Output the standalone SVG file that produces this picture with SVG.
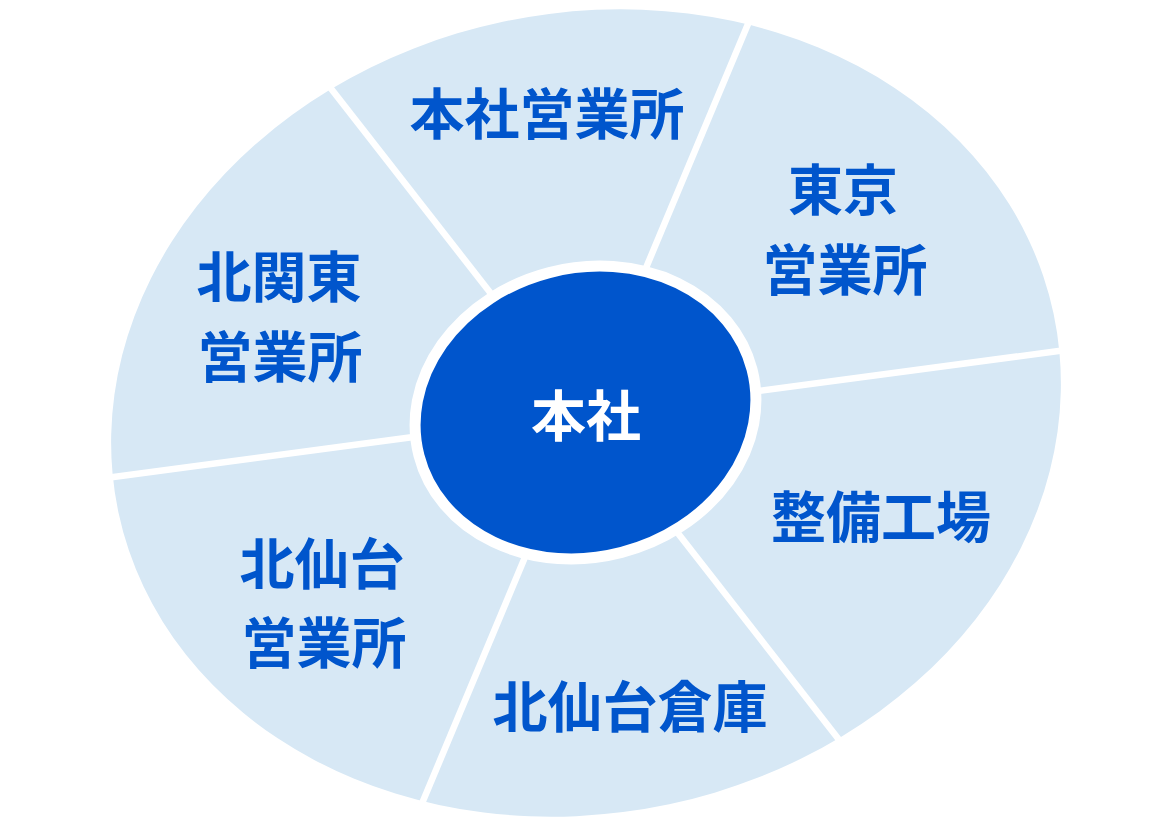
<svg xmlns="http://www.w3.org/2000/svg" width="1170" height="830" viewBox="0 0 1170 830">
  <style>
    .bg { fill: #ffffff; }
    .ring { fill: #D7E8F5; }
    .sep { stroke: #ffffff; stroke-width: 6.5; fill: none; }
    .hub { fill: #0055CC; stroke: #ffffff; stroke-width: 11; }
    .lbl { font-family: "Noto Sans CJK JP", "Noto Sans", sans-serif; font-weight: 700; font-size: 55px; fill: #0055CC; text-anchor: middle; dominant-baseline: central; }
    .hub-lbl { fill: #ffffff; }
  </style>
  <rect class="bg" x="0" y="0" width="1170" height="830"/>
  <g id="outer-ring">
    <ellipse class="ring" cx="586" cy="413" rx="478" ry="400" transform="rotate(-12 586 413)"/>
  </g>
  <g id="connectors">
    <line class="sep" x1="329" y1="86" x2="840" y2="741"/>
    <line class="sep" x1="750.5" y1="18" x2="420.5" y2="807"/>
    <line class="sep" x1="1066" y1="350" x2="106" y2="478"/>
  </g>
  <g id="node-honsha-eigyosho">
    <text class="lbl" x="547" y="110">本社営業所</text>
  </g>
  <g id="node-tokyo-eigyosho">
    <text class="lbl" x="843" y="186">東京</text>
    <text class="lbl" x="845" y="266">営業所</text>
  </g>
  <g id="node-seibi-kojo">
    <text class="lbl" x="881" y="513">整備工場</text>
  </g>
  <g id="node-kitasendai-soko">
    <text class="lbl" x="630" y="703">北仙台倉庫</text>
  </g>
  <g id="node-kitasendai-eigyosho">
    <text class="lbl" x="322" y="560">北仙台</text>
    <text class="lbl" x="324" y="639">営業所</text>
  </g>
  <g id="node-kitakanto-eigyosho">
    <text class="lbl" x="279" y="273">北関東</text>
    <text class="lbl" x="280" y="353">営業所</text>
  </g>
  <g id="node-honsha">
    <ellipse class="hub" cx="585.5" cy="412.5" rx="172" ry="144.5" transform="rotate(-14.5 585.5 412.5)"/>
    <text class="lbl hub-lbl" x="586" y="412">本社</text>
  </g>
</svg>
